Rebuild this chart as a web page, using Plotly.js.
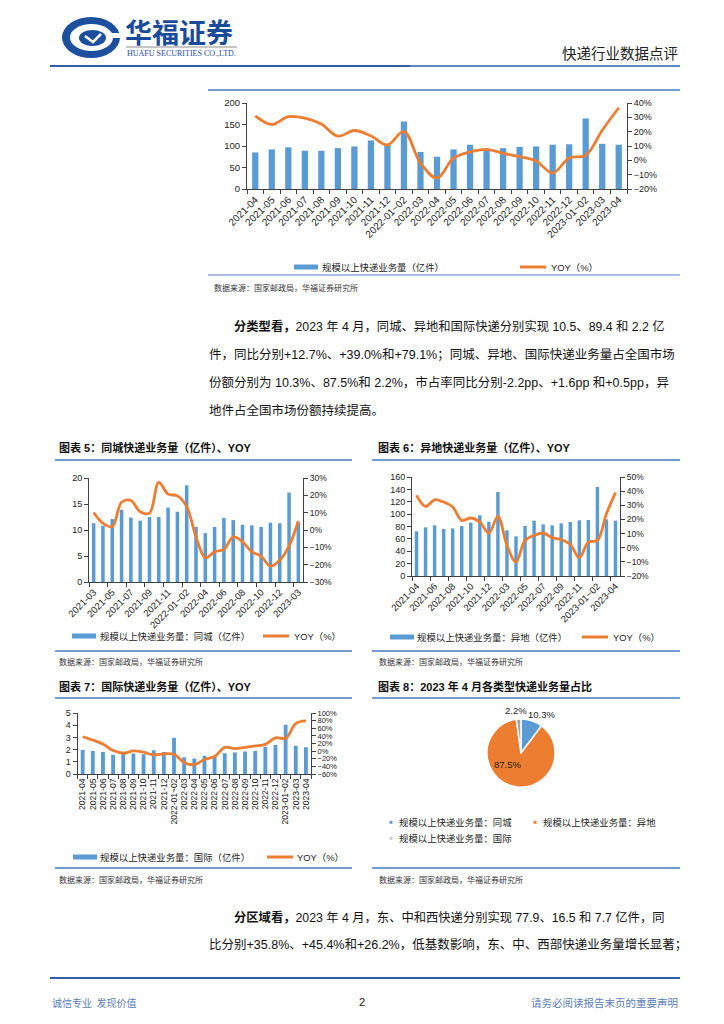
<!DOCTYPE html>
<html>
<head>
<meta charset="utf-8">
<script src="https://cdn.plot.ly/plotly-3.0.1.min.js"></script>
<style>
html,body{margin:0;padding:0;background:#fff;}
#page{width:724px;height:1024px;}
</style>
</head>
<body>
<div id="page"></div>
<script>
// ---------------- DATA ----------------
const catsMain = ['2021-04','2021-05','2021-06','2021-07','2021-08','2021-09','2021-10','2021-11','2021-12','2022-01~02','2022-03','2022-04','2022-05','2022-06','2022-07','2022-08','2022-09','2022-10','2022-11','2022-12','2023-01~02','2023-03','2023-04'];
const volMain = [85,92,97,89,89,95,99,113,103,157,86,75,92,103,93,95,98,99,103,104,164,105,103];
const yoyMain = [31,25,30.5,29.4,25.3,16.9,20.8,17.1,10.7,20.1,-2,-12.4,1.5,5.8,7.7,4.9,2.6,-0.4,-8.9,1.7,3.5,21,36.7];

const catsLocal = ['2021-03','2021-04','2021-05','2021-06','2021-07','2021-08','2021-09','2021-10','2021-11','2021-12','2022-01~02','2022-03','2022-04','2022-05','2022-06','2022-07','2022-08','2022-09','2022-10','2022-11','2022-12','2023-01~02','2023-03'];
const volLocal = [11.3,10.8,12.1,13.9,12.4,11.8,12.5,12.5,14.3,13.5,18.6,10.6,9.4,10.6,12.3,11.9,11.0,10.9,10.6,11.4,11.3,17.2,11.4];
const yoyLocal = [10.1,3.9,1.9,16,17,10.5,9.7,27.5,20.7,19.7,13.5,-3.9,-15.9,-12.6,-11.2,-3.9,-6.8,-12.6,-15.1,-20.9,-17.4,-9.3,5.2];

const catsDiff = ['2021-04','2021-05','2021-06','2021-07','2021-08','2021-09','2021-10','2021-11','2021-12','2022-01~02','2022-03','2022-04','2022-05','2022-06','2022-07','2022-08','2022-09','2022-10','2022-11','2022-12','2023-01~02','2023-03','2023-04'];
const volDiff = [72.2,78.7,81.9,76,77,80.8,86.2,98,87.8,135.8,73.8,64.1,80.8,89.4,83.5,81.9,85.1,87.3,90,90.5,143.9,91.6,89.4];
const yoyDiff = [37,29.2,33.9,32.3,28.8,19.3,21,18.1,10.4,22.2,1.6,-10.1,5.2,8.7,10.4,7.1,5.7,2.4,-7.1,4,5.2,24,39];

const catsIntl = ['2021-04','2021-05','2021-06','2021-07','2021-08','2021-09','2021-10','2021-11','2021-12','2022-01~02','2022-03','2022-04','2022-05','2022-06','2022-07','2022-08','2022-09','2022-10','2022-11','2022-12','2023-01~02','2023-03','2023-04'];
const volIntl = [1.97,1.89,1.81,1.57,1.65,1.68,1.62,1.95,1.81,2.97,1.38,1.27,1.49,1.5,1.7,1.76,1.84,1.89,2.24,2.38,4.03,2.32,2.2];
const yoyIntl = [37.7,29,18.7,1.4,-5.5,0.5,-2.9,-9.9,-7.3,-8.1,-29.8,-35.8,-22,-14.2,10,6.6,10,13.5,17.8,35,33.4,72.3,79.1];

const pieLabels = ['规模以上快递业务量：同城','规模以上快递业务量：异地','规模以上快递业务量：国际'];
const pieShares = [10.3,87.5,2.2];

const barName = '规模以上快递业务量（亿件）';
const barNameLocal = '规模以上快递业务量：同城（亿件）';
const barNameDiff = '规模以上快递业务量：异地（亿件）';
const barNameIntl = '规模以上快递业务量：国际（亿件）';
const lineName = 'YOY（%）';

// ---------------- STYLE / LAYOUT ----------------
const W = 724, H = 1024;
const X = p => p / W;
const Y = p => 1 - p / H;
const BLUE = '#5B9BD5', ORANGE = '#ED7D31', GRAY = '#A5A5A5';
const RULE = '#4A78C2', RULE_LIGHT = '#8EAADC';
const FONT = '"Liberation Sans", "Noto Sans CJK SC", sans-serif';
const CJK = '"Noto Sans CJK SC", sans-serif';

const axisBase = {
  showline: true, linecolor: '#404040', linewidth: 1,
  ticks: 'outside', ticklen: 4, tickcolor: '#404040', tickwidth: 1,
  showgrid: false, zeroline: false, fixedrange: true,
  tickfont: {family: FONT, size: 9, color: '#222'}
};
function xa(domain, anchor, angle, fs, extra) {
  return Object.assign({}, axisBase, {domain: domain, anchor: anchor, type: 'category',
    tickangle: angle, tickson: 'boundaries', tickfont: {family: FONT, size: fs, color: '#222'}}, extra || {});
}
function yl(domain, anchor, range, dtick, fs) {
  return Object.assign({}, axisBase, {domain: domain, anchor: anchor, range: range,
    tickmode: 'linear', tick0: 0, dtick: dtick, tickfont: {family: FONT, size: fs, color: '#222'}});
}
function yr(over, anchor, range, dtick, fs) {
  return Object.assign({}, axisBase, {overlaying: over, side: 'right', anchor: anchor, range: range,
    tickmode: 'linear', tick0: 0, dtick: dtick, ticksuffix: '%',
    tickfont: {family: FONT, size: fs, color: '#222'}});
}

function barTrace(x, y, xax, yax, name) {
  return {type: 'bar', x: x, y: y, xaxis: xax, yaxis: yax, name: name,
    marker: {color: BLUE}, showlegend: false, hoverinfo: 'skip'};
}
function lineTrace(x, y, xax, yax, w) {
  return {type: 'scatter', mode: 'lines', x: x, y: y, xaxis: xax, yaxis: yax, name: lineName,
    line: {color: ORANGE, width: w, shape: 'spline', smoothing: 1}, showlegend: false, hoverinfo: 'skip'};
}

const data = [
  barTrace(catsMain, volMain, 'x', 'y', barName),
  lineTrace(catsMain, yoyMain, 'x', 'y2', 2.8),
  barTrace(catsLocal, volLocal, 'x2', 'y3', barNameLocal),
  lineTrace(catsLocal, yoyLocal, 'x2', 'y4', 2.8),
  barTrace(catsDiff, volDiff, 'x3', 'y5', barNameDiff),
  lineTrace(catsDiff, yoyDiff, 'x3', 'y6', 2.8),
  barTrace(catsIntl, volIntl, 'x4', 'y7', barNameIntl),
  lineTrace(catsIntl, yoyIntl, 'x4', 'y8', 2.8),
  {type: 'pie', labels: pieLabels, values: pieShares, sort: false, direction: 'clockwise', rotation: 0,
   domain: {x: [X(487), X(555)], y: [Y(787), Y(719)]},
   marker: {colors: [BLUE, ORANGE, GRAY], line: {color: '#ffffff', width: 1.5}},
   textinfo: 'none', showlegend: false, hoverinfo: 'skip'}
];

// ---------- shapes ----------
const shapes = [];
function hline(x0, x1, y, color, w) {
  shapes.push({type: 'line', xref: 'paper', yref: 'paper', x0: X(x0), x1: X(x1), y0: Y(y), y1: Y(y),
    line: {color: color, width: w}});
}
function rect(x0, y0, x1, y1, color) {
  shapes.push({type: 'rect', xref: 'paper', yref: 'paper', x0: X(x0), x1: X(x1), y0: Y(y1), y1: Y(y0),
    fillcolor: color, line: {width: 0}});
}
function ell(x0, y0, x1, y1, color) {
  shapes.push({type: 'circle', xref: 'paper', yref: 'paper', x0: X(x0), x1: X(x1), y0: Y(y1), y1: Y(y0),
    fillcolor: color, line: {width: 0}});
}
// logo
ell(62, 17, 120, 58, '#1D4F9F');
ell(70, 24, 113, 51, '#ffffff');
ell(79, 30, 106, 46, '#1D4F9F');
rect(106, 33, 122, 38, '#ffffff');
shapes.push({type: 'path', xref: 'paper', yref: 'paper',
  path: 'M ' + X(85) + ' ' + Y(36) + ' L ' + X(93) + ' ' + Y(42) + ' L ' + X(101) + ' ' + Y(34),
  line: {color: '#ffffff', width: 2.5}});
hline(126, 237, 47, '#8c8c8c', 1);
// header rule
hline(50, 410, 66, '#2F5EAA', 2);
hline(410, 680, 66, '#2F5EAA', 1.5);
// section rules
hline(208, 680, 90, RULE, 1.5);
hline(208, 680, 275, RULE_LIGHT, 1.5);
hline(55, 352, 460, RULE, 1.5); hline(372, 680, 460, RULE, 1.5);
hline(55, 352, 651, RULE, 1.5); hline(372, 680, 651, RULE, 1.5);
hline(55, 352, 698, RULE, 1.5); hline(372, 680, 698, RULE, 1.5);
hline(55, 352, 868, RULE, 1.5); hline(372, 680, 868, RULE, 1.5);
hline(50, 680, 978, '#2F5EAA', 2);

// legend keys
function barKey(x0, y) { rect(x0, y - 2.5, x0 + 24, y + 2.5, BLUE); }
function lineKey(x0, y) { hline(x0, x0 + 26, y, ORANGE, 3); }
barKey(294, 267); lineKey(520, 267);
barKey(72, 636); lineKey(263, 636);
barKey(390, 637); lineKey(582, 637);
barKey(73, 857); lineKey(267, 857);
rect(389.5, 820.8, 392.5, 823.8, BLUE);
rect(533.5, 820.8, 536.5, 823.8, ORANGE);
rect(389.5, 836.8, 392.5, 839.8, '#C9C9C9');

// ---------- annotations ----------
const ann = [];
function txt(x, y, text, size, opt) {
  ann.push(Object.assign({xref: 'paper', yref: 'paper', x: X(x), y: Y(y), text: text, showarrow: false,
    xanchor: 'left', yanchor: 'middle', font: {family: FONT, size: size, color: '#111'}}, opt || {}));
}
// header
txt(123, 31, '<b>华福证券</b>', 27, {font: {family: CJK, size: 27, color: '#1A4B9B'}});
txt(125, 53, 'HUAFU SECURITIES CO.,LTD.', 8, {font: {family: '"Liberation Serif", serif', size: 8, color: '#1A4B9B'}});
txt(680, 52, '快递行业数据点评', 14.5, {xanchor: 'right', font: {family: CJK, size: 14.5, color: '#222'}});

// legends
const LG = {family: FONT, size: 9.4, color: '#222'};
txt(320, 267, barName, 9.5, {font: LG});
txt(549, 267, lineName, 9.5, {font: LG});
txt(98, 636, barNameLocal, 9.4, {font: LG});
txt(292, 636, lineName, 9.4, {font: LG});
txt(415, 637, barNameDiff, 9.4, {font: LG});
txt(611, 637, lineName, 9.4, {font: LG});
txt(98, 857, barNameIntl, 9.4, {font: LG});
txt(295, 857, lineName, 9.4, {font: LG});
txt(397, 822, pieLabels[0], 9.4, {font: LG});
txt(541, 822, pieLabels[1], 9.4, {font: LG});
txt(397, 838, pieLabels[2], 9.4, {font: LG});

// pie labels
const PF = {family: FONT, size: 9.5, color: '#222'};
txt(541.5, 714, pieShares[0].toFixed(1) + '%', 9.5, {xanchor: 'center', font: PF});
txt(507, 764, pieShares[1].toFixed(1) + '%', 9.5, {xanchor: 'center', font: PF});
txt(516, 710, pieShares[2].toFixed(1) + '%', 9.5, {xanchor: 'center', font: PF});

// sources
const SRC = '数据来源：国家邮政局，华福证券研究所';
const SF = {family: CJK, size: 8, color: '#333'};
txt(212, 287, SRC, 8, {font: SF});
txt(57, 661, SRC, 8, {font: SF});
txt(377, 661, SRC, 8, {font: SF});
txt(57, 879, SRC, 8, {font: SF});
txt(377, 879, SRC, 8, {font: SF});

// chart titles
const TF = {family: FONT, size: 11, color: '#111'};
txt(57, 447, '<b>图表 5：同城快递业务量（亿件）、YOY</b>', 11, {font: TF});
txt(376, 447, '<b>图表 6：异地快递业务量（亿件）、YOY</b>', 11, {font: TF});
txt(57, 686, '<b>图表 7：国际快递业务量（亿件）、YOY</b>', 11, {font: TF});
txt(376, 686, '<b>图表 8：2023 年 4 月各类型快递业务量占比</b>', 11, {font: TF});

// body text
const BF = {family: FONT, size: 12.5, color: '#111'};
txt(232, 326, '<b>分类型看，</b>2023 年 4 月，同城、异地和国际快递分别实现 10.5、89.4 和 2.2 亿', 12.3, {font: {family: FONT, size: 12.3, color: '#111'}});
txt(207, 354, '件，同比分别+12.7%、+39.0%和+79.1%；同城、异地、国际快递业务量占全国市场', 12.5, {font: BF});
txt(207, 382, '份额分别为 10.3%、87.5%和 2.2%，市占率同比分别-2.2pp、+1.6pp 和+0.5pp，异', 12.5, {font: BF});
txt(207, 410, '地件占全国市场份额持续提高。', 12.5, {font: BF});
txt(232, 917, '<b>分区域看，</b>2023 年 4 月，东、中和西快递分别实现 77.9、16.5 和 7.7 亿件，同', 12.3, {font: {family: FONT, size: 12.3, color: '#111'}});
txt(207, 944, '比分别+35.8%、+45.4%和+26.2%，低基数影响，东、中、西部快递业务量增长显著；', 12.5, {font: BF});

// footer
txt(50, 1002, '诚信专业  发现价值', 10, {font: {family: CJK, size: 10, color: '#5A7DB8'}});
txt(362, 1002, '2', 11, {xanchor: 'center', font: {family: FONT, size: 11, color: '#111'}});
txt(680, 1002, '请务必阅读报告末页的重要声明', 10.5, {xanchor: 'right', font: {family: CJK, size: 10.5, color: '#5A7DB8'}});

const layout = {
  width: W, height: H, margin: {l: 0, r: 0, t: 0, b: 0},
  paper_bgcolor: '#ffffff', plot_bgcolor: 'rgba(0,0,0,0)',
  showlegend: false, hovermode: false, bargap: 0.62,
  font: {family: FONT, color: '#222'},
  xaxis: xa([X(247), X(627)], 'y', -45, 10, {tickmode: 'linear', tick0: 0, dtick: 1}),
  yaxis: yl([Y(189), Y(103)], 'x', [0, 200], 50, 9.5),
  yaxis2: yr('y', 'x', [-20, 40], 10, 9),
  xaxis2: xa([X(89), X(303)], 'y3', -45, 9.5, {tickmode: 'linear', tick0: 0, dtick: 2}),
  yaxis3: yl([Y(582), Y(478)], 'x2', [0, 20], 5, 9),
  yaxis4: yr('y3', 'x2', [-30, 30], 10, 8.5),
  xaxis3: xa([X(412), X(620)], 'y5', -45, 9.5, {tickmode: 'linear', tick0: 0, dtick: 2}),
  yaxis5: yl([Y(576), Y(477)], 'x3', [0, 160], 20, 9),
  yaxis6: yr('y5', 'x3', [-20, 50], 10, 8.5),
  xaxis4: xa([X(77.6), X(311)], 'y7', -90, 8.6, {tickmode: 'linear', tick0: 0, dtick: 1}),
  yaxis7: yl([Y(774), Y(713)], 'x4', [0, 5], 1, 9),
  yaxis8: yr('y7', 'x4', [-60, 100], 20, 7.5),
  shapes: shapes,
  annotations: ann
};

Plotly.newPlot('page', data, layout, {staticPlot: true, displayModeBar: false});
</script>
</body>
</html>
